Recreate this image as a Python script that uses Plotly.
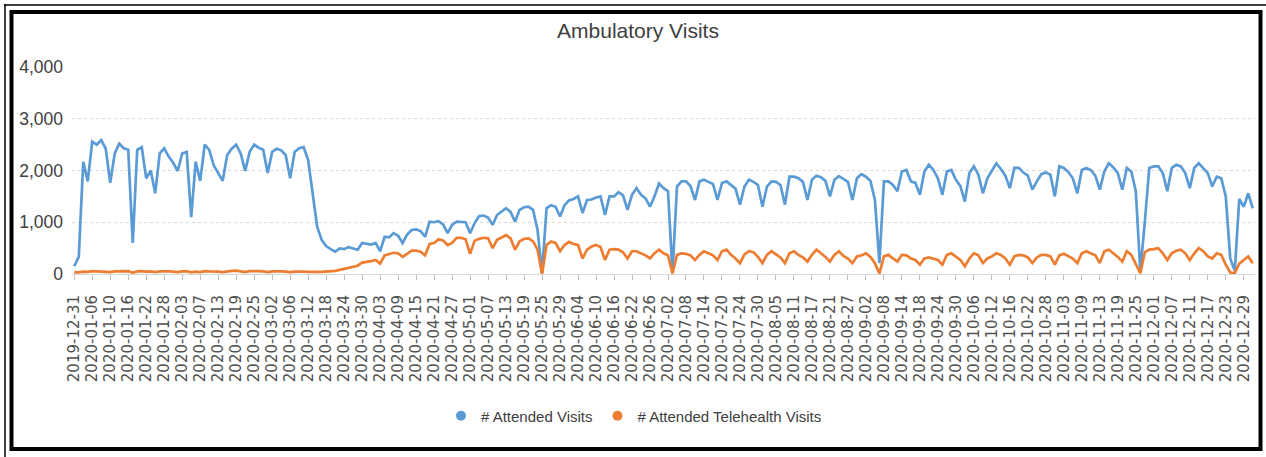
import pandas as pd
import plotly.graph_objects as go

# Categories: business days 2019-12-31 .. 2020-12-31
dates = [d.strftime("%Y-%m-%d") for d in pd.bdate_range("2019-12-31", "2020-12-31")]
tick_labels = dates[::4]

attended_visits = [
    150, 330, 2170, 1790, 2560, 2500, 2590, 2420, 1760, 2330,
    2520, 2430, 2400, 600, 2400, 2450, 1850, 2000, 1560, 2330,
    2430, 2270, 2150, 1990, 2330, 2360, 1100, 2170, 1800, 2500,
    2400, 2100, 1950, 1800, 2300, 2420, 2500, 2330, 1990, 2360,
    2500, 2440, 2400, 1950, 2360, 2420, 2390, 2300, 1850, 2360,
    2430, 2450, 2200, 1500, 915, 660, 540, 480, 430, 495,
    480, 520, 500, 470, 600, 590, 570, 600, 440, 720,
    710, 790, 740, 600, 760, 850, 860, 830, 720, 1010,
    1000, 1020, 960, 790, 950, 1010, 1000, 1000, 790, 980,
    1120, 1130, 1090, 950, 1140, 1200, 1270, 1200, 1010, 1240,
    1290, 1300, 1240, 850, 20, 1270, 1330, 1300, 1110, 1330,
    1420, 1450, 1500, 1180, 1430, 1440, 1480, 1500, 1140, 1500,
    1500, 1580, 1520, 1240, 1530, 1660, 1530, 1460, 1300, 1500,
    1750, 1660, 1600, 20, 1690, 1790, 1790, 1700, 1430, 1790,
    1820, 1780, 1740, 1430, 1760, 1790, 1720, 1650, 1340, 1690,
    1820, 1780, 1720, 1300, 1690, 1790, 1780, 1720, 1340, 1880,
    1880, 1850, 1780, 1430, 1820, 1900, 1870, 1800, 1500, 1820,
    1890, 1830, 1780, 1430, 1850, 1930, 1880, 1800, 1430, 210,
    1790, 1790, 1720, 1600, 1980, 2010, 1790, 1760, 1530, 1980,
    2110, 2010, 1850, 1530, 1980, 2010, 1820, 1700, 1400, 1950,
    2080, 1920, 1560, 1850, 1990, 2140, 2030, 1900, 1660, 2050,
    2050, 1960, 1900, 1630, 1790, 1930, 1960, 1920, 1500, 2080,
    2050, 1970, 1850, 1560, 2010, 2050, 2010, 1900, 1630, 1980,
    2140, 2060, 1950, 1630, 2050, 1980, 1600, 60, 1000, 2050,
    2080, 2080, 1950, 1600, 2050, 2110, 2080, 1950, 1660, 2050,
    2140, 2050, 1950, 1690, 1880, 1850, 1500, 300, 60, 1450,
    1300, 1560, 1270,
]

telehealth_visits = [
    30, 30, 45, 40, 55, 50, 55, 50, 35, 50,
    55, 50, 55, 25, 50, 55, 45, 50, 35, 50,
    55, 50, 45, 35, 50, 55, 30, 45, 35, 55,
    50, 50, 45, 35, 50, 60, 65, 55, 35, 55,
    60, 55, 50, 35, 50, 55, 50, 45, 35, 45,
    50, 45, 40, 35, 40, 40, 45, 50, 60, 80,
    100, 110, 140, 160, 220, 230, 250, 270, 200, 360,
    390, 410, 400, 330, 390, 450, 450, 430, 360, 580,
    600, 670, 650, 560, 600, 700, 700, 670, 390, 640,
    680, 700, 690, 500, 660, 700, 750, 690, 470, 630,
    680, 690, 630, 470, 0, 560, 630, 600, 440, 560,
    620, 580, 560, 300, 470, 530, 560, 520, 270, 470,
    480, 470, 420, 300, 440, 440, 400, 360, 300, 400,
    470, 400, 360, 10, 370, 400, 390, 360, 270, 370,
    440, 400, 360, 270, 440, 470, 370, 300, 210, 380,
    440, 420, 330, 210, 370, 440, 380, 320, 210, 400,
    440, 370, 320, 240, 370, 470, 400, 330, 240, 370,
    440, 350, 300, 210, 340, 360, 400, 330, 210, 10,
    340, 370, 300, 240, 370, 360, 300, 270, 180, 300,
    320, 300, 270, 180, 370, 400, 340, 270, 150, 300,
    400, 360, 210, 300, 340, 400, 370, 300, 180, 340,
    370, 360, 320, 210, 320, 370, 370, 340, 180, 360,
    390, 340, 300, 210, 400, 440, 400, 360, 210, 440,
    470, 400, 330, 240, 440, 370, 180, 15, 420, 470,
    480, 500, 400, 270, 400, 450, 470, 400, 270, 400,
    500, 440, 340, 300, 400, 370, 180, 30, 15, 200,
    270, 340, 210,
]

series_names = ["# Attended Visits", "# Attended Telehealth Visits"]
colors = ["#5B9BD5", "#ED7D31"]

W, H = 1266, 457
ML, MR, MT, MB = 72, 11, 67, 183
PW, PH = W - ML - MR, H - MT - MB


def px(x):
    return (x - ML) / PW


def py(y):
    return 1 - (y - MT) / PH


fig = go.Figure()
for name, vals, col in zip(series_names, [attended_visits, telehealth_visits], colors):
    fig.add_trace(go.Scatter(x=dates, y=vals, mode="lines", name=name,
                             line=dict(color=col, width=2.7), showlegend=False))
    fig.add_trace(go.Scatter(x=[None], y=[None], mode="markers", name=name,
                             marker=dict(color=col, size=10, symbol="circle")))

fig.update_layout(
    width=W, height=H,
    margin=dict(l=ML, r=MR, t=MT, b=MB, autoexpand=False),
    paper_bgcolor="white", plot_bgcolor="white",
    font=dict(family="Liberation Sans, Arial, sans-serif", color="#404040"),
    title=dict(text="Ambulatory Visits", x=px(638), xref="paper", y=1 - 31 / H,
               yref="container", xanchor="center", yanchor="middle",
               font=dict(size=21, color="#404040")),
    showlegend=True,
    legend=dict(orientation="h", x=px(634), xanchor="center", y=py(416), yanchor="middle",
                font=dict(size=15, color="#404040"), itemwidth=30),
    xaxis=dict(type="category", categoryorder="array", categoryarray=dates,
               range=[-0.5, len(dates) - 0.5], automargin=False,
               tickmode="array", tickvals=tick_labels, ticktext=tick_labels,
               tickangle=-90, ticks="outside", ticklen=5, tickcolor="#bfbfbf",
               showline=True, linecolor="#d9d9d9", linewidth=1,
               showgrid=False, ticklabelstandoff=9,
               tickfont=dict(family="DejaVu Sans", size=15, color="#505050")),
    yaxis=dict(range=[0, 4000], tickvals=[0, 1000, 2000, 3000, 4000], tickformat=",",
               showgrid=True, gridcolor="#d9d9d9", griddash="dot", gridwidth=1,
               zeroline=False, ticklabelstandoff=8, automargin=False,
               tickfont=dict(size=17.5, color="#404040")),
    shapes=[
        dict(type="rect", xref="paper", yref="paper",
             x0=px(11.5), x1=px(1260.5), y0=py(12), y1=py(449),
             line=dict(color="black", width=4), fillcolor="rgba(0,0,0,0)", layer="above"),
        dict(type="line", xref="paper", yref="paper",
             x0=px(4), x1=px(1266), y0=py(5), y1=py(5),
             line=dict(color="black", width=1.5)),
        dict(type="line", xref="paper", yref="paper",
             x0=px(5), x1=px(5), y0=py(4), y1=py(457),
             line=dict(color="black", width=1.5)),
    ],
)

fig.write_html("out.html", config={"displayModeBar": False},
               post_script="document.body.style.margin='0';document.body.style.overflow='hidden';")
